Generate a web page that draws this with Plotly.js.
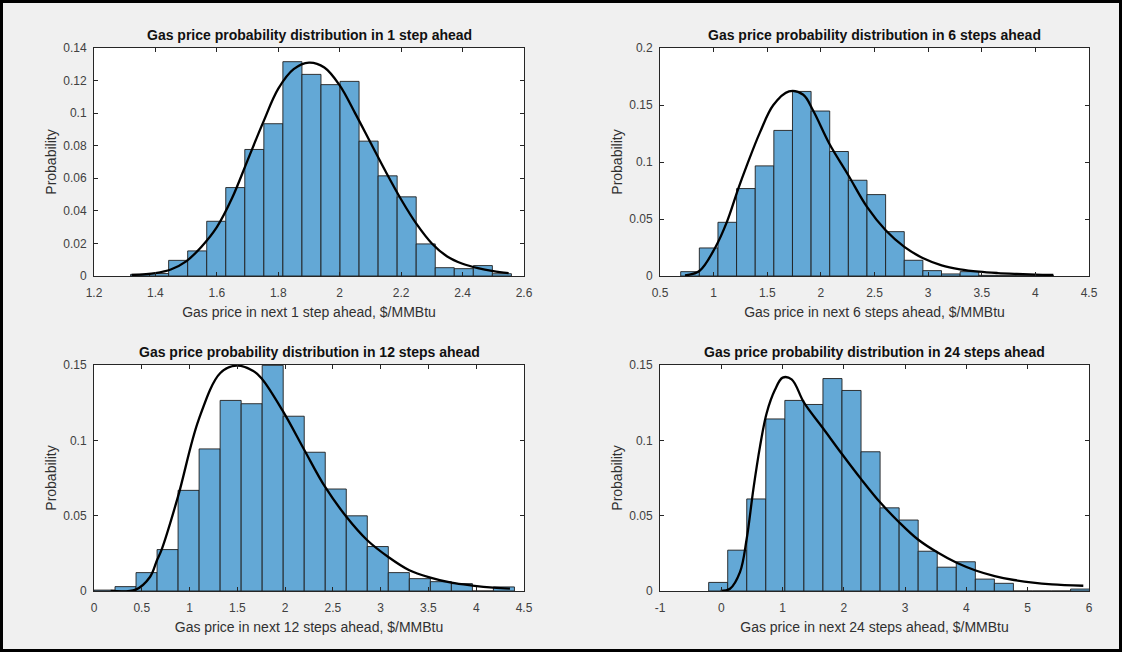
<!DOCTYPE html>
<html>
<head>
<meta charset="utf-8">
<script src="https://cdn.plot.ly/plotly-3.0.1.min.js"></script>
<style>
  html, body { margin: 0; padding: 0; background: #f0f0f0; }
  #chart { width: 1122px; height: 652px; }
</style>
</head>
<body>
<div id="chart"></div>
<script>
// ---------- data ----------
const titles = [
  "Gas price probability distribution in 1 step ahead",
  "Gas price probability distribution in 6 steps ahead",
  "Gas price probability distribution in 12 steps ahead",
  "Gas price probability distribution in 24 steps ahead"
];
const xTitles = [
  "Gas price in next 1 step ahead, $/MMBtu",
  "Gas price in next 6 steps ahead, $/MMBtu",
  "Gas price in next 12 steps ahead, $/MMBtu",
  "Gas price in next 24 steps ahead, $/MMBtu"
];
const yTitle = "Probability";

// histogram bins: first edge, bin width, probabilities
const binStart1 = 1.319, binWidth1 = 0.062;
const prob1 = [0.0010,0.0015,0.0096,0.0154,0.0336,0.0543,0.0777,0.0935,0.1316,0.1238,
               0.1175,0.1195,0.0828,0.0615,0.0486,0.0197,0.0051,0.0045,0.0064,0.0014];

const binStart2 = 0.693, binWidth2 = 0.1737;
const prob2 = [0.0038,0.0246,0.0471,0.0767,0.0966,0.1277,0.1619,0.1447,0.1092,0.0840,
               0.0714,0.0389,0.0138,0.0047,0.0018,0.0038,0.0006,0.0003,0.0003,0.0009];

const binStart3 = 0.0, binWidth3 = 0.22;
const prob3 = [0.0006,0.0029,0.0122,0.0275,0.0668,0.0943,0.1265,0.1243,0.1498,0.1160,
               0.0921,0.0677,0.0499,0.0295,0.0122,0.0082,0.0062,0.0049,0.0000,0.0027];

const binStart4 = -0.206, binWidth4 = 0.3108;
const prob4 = [0.0057,0.0271,0.0611,0.1142,0.1265,0.1238,0.1410,0.1331,0.0924,0.0552,
               0.0471,0.0264,0.0158,0.0194,0.0079,0.0051,0.0000,0.0000,0.0000,0.0013];

// fitted density curves
const fitX1 = [1.323,1.40,1.45,1.50,1.55,1.60,1.65,1.70,1.75,1.80,1.85,1.90,1.95,2.00,2.05,2.10,2.15,2.20,2.25,2.30,2.35,2.40,2.45,2.50,2.55];
const fitY1 = [0.0006,0.0018,0.004,0.009,0.018,0.030,0.048,0.071,0.094,0.115,0.127,0.131,0.128,0.117,0.100,0.082,0.064,0.047,0.032,0.020,0.012,0.0075,0.0048,0.0030,0.0018];

const fitX2 = [0.733,0.867,1.013,1.122,1.230,1.308,1.432,1.557,1.703,1.836,1.930,2.079,2.256,2.430,2.604,2.778,2.949,3.126,3.297,3.474,3.648,3.826,3.997,4.167];
const fitY2 = [0.0006,0.0044,0.0246,0.047,0.0767,0.0966,0.126,0.150,0.162,0.159,0.1447,0.116,0.0884,0.0606,0.0401,0.0255,0.0158,0.0094,0.0059,0.0038,0.0026,0.0018,0.0012,0.0009];

const fitX3 = [0.174,0.436,0.586,0.659,0.708,0.879,1.095,1.322,1.493,1.667,1.755,1.980,2.201,2.417,2.641,2.860,3.080,3.300,3.520,3.740,3.959,4.179,4.353];
const fitY3 = [0.0,0.0009,0.0093,0.0204,0.0275,0.0626,0.1136,0.1447,0.1496,0.146,0.141,0.119,0.0936,0.0692,0.0493,0.0337,0.0226,0.0138,0.0089,0.0055,0.0036,0.0022,0.0016];

const fitX4 = [-0.010,0.142,0.305,0.414,0.523,0.632,0.740,0.876,1.001,1.148,1.350,1.660,1.975,2.285,2.595,2.905,3.215,3.531,3.841,4.151,4.461,4.776,5.086,5.396,5.907];
const fitY4 = [0.0,0.0015,0.0125,0.0345,0.0675,0.096,0.118,0.1335,0.1416,0.1405,0.125,0.108,0.0906,0.0741,0.0587,0.0455,0.0340,0.0255,0.0187,0.0136,0.0099,0.0073,0.0055,0.0044,0.0035];

// axis ranges and tick steps
const xRanges = [[1.2,2.6],[0.5,4.5],[0,4.5],[-1,6]];
const xSteps  = [0.2, 0.5, 0.5, 1];
const yRanges = [[0,0.14],[0,0.2],[0,0.15],[0,0.15]];
const ySteps  = [0.02, 0.05, 0.05, 0.05];
// panel 4 x tick labels (plain hyphen minus, as in the reference)
const xTickVals4 = [-1, 0, 1, 2, 3, 4, 5, 6];
const xTickText4 = ["-1", "0", "1", "2", "3", "4", "5", "6"];

// ---------- build figure ----------
const FONT = "Liberation Sans, Arial, Helvetica, sans-serif";
const W = 1122, H = 652;
const boxes = [ // pixel boxes of the plot areas [left, right, top, bottom]
  [94, 524, 48, 276],
  [660, 1089, 48, 276],
  [94, 524, 365, 591],
  [660, 1089, 365, 591]
];
const titleY = [35, 35, 352, 352];

const bins = [
  [binStart1, binWidth1, prob1],
  [binStart2, binWidth2, prob2],
  [binStart3, binWidth3, prob3],
  [binStart4, binWidth4, prob4]
];
const fits = [[fitX1, fitY1],[fitX2, fitY2],[fitX3, fitY3],[fitX4, fitY4]];

const traces = [];
const layout = {
  width: W, height: H,
  margin: {l: 0, r: 0, t: 0, b: 0},
  paper_bgcolor: "#f0f0f0",
  plot_bgcolor: "#ffffff",
  showlegend: false,
  bargap: 0,
  font: {family: FONT, color: "#262626"},
  annotations: [],
  shapes: [{
    type: "rect", xref: "paper", yref: "paper", x0: 0, x1: 1, y0: 0, y1: 1,
    line: {color: "#000000", width: 6}, fillcolor: "rgba(0,0,0,0)"
  }]
};

for (let k = 0; k < 4; k++) {
  const sfx = k === 0 ? "" : String(k + 1);
  const xa = "x" + sfx, ya = "y" + sfx;
  const [start, width, probs] = bins[k];
  const centers = probs.map((_, i) => start + (i + 0.5) * width);
  traces.push({
    type: "bar", x: centers, y: probs, width: probs.map(() => width),
    xaxis: xa, yaxis: ya,
    marker: {color: "rgb(99,168,214)", line: {color: "#1e1e1e", width: 0.9}},
    hoverinfo: "x+y"
  });
  traces.push({
    type: "scatter", mode: "lines", x: fits[k][0], y: fits[k][1],
    xaxis: xa, yaxis: ya,
    line: {color: "#000000", width: 2.3, shape: "spline", smoothing: 1}
  });

  const b = boxes[k];
  const axCommon = {
    showline: true, linecolor: "#262626", linewidth: 1, mirror: "ticks",
    ticks: "inside", ticklen: 4, tickwidth: 1, tickcolor: "#262626",
    showgrid: false, zeroline: false,
    tickfont: {family: FONT, size: 12, color: "#404040"}
  };
  const xAx = Object.assign({}, axCommon, {
    domain: [b[0] / W, b[1] / W], anchor: ya,
    range: xRanges[k], tick0: xRanges[k][0], dtick: xSteps[k],
    ticklabelstandoff: 6,
    title: {text: xTitles[k], font: {family: FONT, size: 14, color: "#303030"}, standoff: 7}
  });
  if (k === 3) {
    xAx.tickmode = "array";
    xAx.tickvals = xTickVals4;
    xAx.ticktext = xTickText4;
  }
  layout["xaxis" + sfx] = xAx;
  layout["yaxis" + sfx] = Object.assign({}, axCommon, {
    domain: [1 - b[3] / H, 1 - b[2] / H], anchor: xa,
    range: yRanges[k], tick0: 0, dtick: ySteps[k],
    ticklabelstandoff: 4,
    title: {text: yTitle, font: {family: FONT, size: 14, color: "#303030"}, standoff: 3}
  });
  layout.annotations.push({
    text: "<b>" + titles[k] + "</b>", xref: "paper", yref: "paper",
    x: (b[0] + b[1]) / 2 / W, y: 1 - titleY[k] / H,
    xanchor: "center", yanchor: "middle", showarrow: false,
    font: {family: FONT, size: 14, color: "#111111"}
  });
}

Plotly.newPlot("chart", traces, layout, {displayModeBar: false, staticPlot: true});
</script>
</body>
</html>
